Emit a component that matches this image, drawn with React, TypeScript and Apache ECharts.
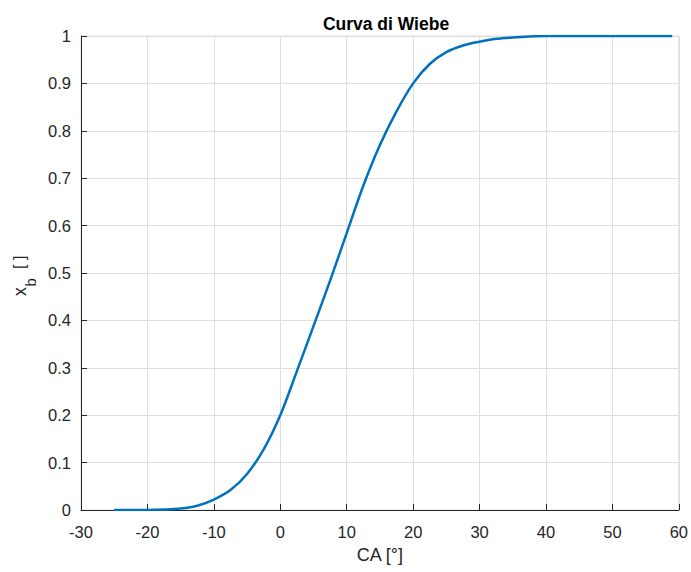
import React, { useEffect, useRef } from "react";
import * as echarts from "echarts";

const crankAngles = [-25, -20, -17.5, -15, -12.5, -10, -7.5, -5, -2.5, 0, 2.5, 5, 7.5, 10, 12.5, 15, 17.5, 20, 22.5, 25, 27.5, 30, 32.5, 35, 37.5, 40, 45, 50, 55, 59];
const burnedFraction = [0, 0.0001, 0.0008, 0.003, 0.009, 0.022, 0.042, 0.076, 0.128, 0.2, 0.293, 0.388, 0.484, 0.584, 0.684, 0.77, 0.841, 0.9, 0.941, 0.966, 0.98, 0.988, 0.994, 0.997, 0.999, 1, 1, 1, 1, 1];
const xTicks = [-30, -20, -10, 0, 10, 20, 30, 40, 50, 60];
const yTicks = [0, 0.1, 0.2, 0.3, 0.4, 0.5, 0.6, 0.7, 0.8, 0.9, 1];

const FONT = "Liberation Sans, Arial, Helvetica, sans-serif";
const AXIS = "#262626";
const GRID = "#dedede";

export default function App() {
  const ref = useRef<HTMLDivElement>(null);
  useEffect(() => {
    if (!ref.current) return;
    const chart = echarts.init(ref.current, null, { renderer: "svg" });
    const data = crankAngles.map((x, i) => [x, burnedFraction[i]]);
    chart.setOption({
      animation: false,
      backgroundColor: "#ffffff",
      title: {
        text: "Curva di Wiebe",
        left: 381,
        textAlign: "center",
        top: 10,
        textStyle: { fontFamily: FONT, fontSize: 17.5, fontWeight: "bold", color: "#000" },
      },
      grid: {
        left: 81,
        right: 10,
        top: 36,
        bottom: 62,
        show: true,
        borderColor: GRID,
        borderWidth: 1,
        backgroundColor: "transparent",
      },
      xAxis: {
        type: "value",
        min: xTicks[0],
        max: xTicks[xTicks.length - 1],
        interval: 10,
        name: "CA [°]",
        nameLocation: "middle",
        nameGap: 36,
        nameTextStyle: { fontFamily: FONT, fontSize: 18, color: AXIS },
        axisLine: { show: true, onZero: false, lineStyle: { color: AXIS, width: 1 } },
        axisTick: { show: true, inside: true, length: 6, lineStyle: { color: AXIS } },
        axisLabel: { fontFamily: FONT, fontSize: 16.5, color: AXIS, margin: 13 },
        splitLine: { show: true, lineStyle: { color: GRID, width: 1 } },
      },
      yAxis: {
        type: "value",
        min: yTicks[0],
        max: yTicks[yTicks.length - 1],
        interval: 0.1,
        axisLine: { show: true, onZero: false, lineStyle: { color: AXIS, width: 1 } },
        axisTick: { show: true, inside: true, length: 6, lineStyle: { color: AXIS } },
        axisLabel: {
          fontFamily: FONT,
          fontSize: 16.5,
          color: AXIS,
          margin: 10,
          formatter: (v: number) => String(Math.round(v * 10) / 10),
        },
        splitLine: { show: true, lineStyle: { color: GRID, width: 1 } },
      },
      graphic: [
        {
          type: "group",
          x: 20,
          y: 296,
          rotation: Math.PI / 2,
          children: [
            { type: "text", x: 0, y: 0, style: { text: "x", fontFamily: FONT, fontSize: 18, fill: AXIS, textAlign: "left", textVerticalAlign: "middle" } },
            { type: "text", x: 9.5, y: 10, style: { text: "b", fontFamily: FONT, fontSize: 15, fill: AXIS, textAlign: "left", textVerticalAlign: "middle" } },
            { type: "text", x: 27, y: -1, style: { text: "[ ]", fontFamily: FONT, fontSize: 16, fill: AXIS, textAlign: "left", textVerticalAlign: "middle" } },
          ],
        },
      ],
      series: [
        {
          type: "line",
          data,
          smooth: 0.35,
          showSymbol: false,
          lineStyle: { color: "#0072BD", width: 2.5 },
          itemStyle: { color: "#0072BD" },
        },
      ],
    });
    return () => chart.dispose();
  }, []);
  return (
    <div
      ref={ref}
      style={{ position: "absolute", left: 0, top: 0, width: 691, height: 572 }}
    />
  );
}
